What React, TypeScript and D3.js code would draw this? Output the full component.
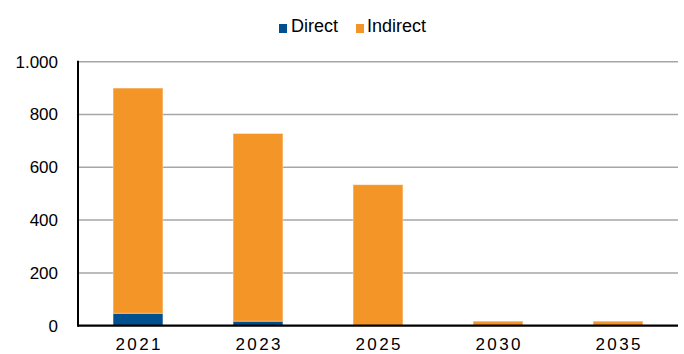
import React from "react";
import * as d3 from "d3";

const categories = ["2021", "2023", "2025", "2030", "2035"];
const directValues = [47, 17, 0, 0, 0];
const indirectValues = [853, 711, 534, 17, 17];
const yTicks = [0, 200, 400, 600, 800, 1000];
const seriesNames = ["Direct", "Indirect"];
const seriesColors = ["#00508F", "#F39627"];

const W = 684;
const H = 354;
const left = 78;
const right = 678;
const top = 61.7;
const bottom = 325.7;

export default function App() {
  const x = d3.scaleBand<string>().domain(categories).range([left, right]).paddingInner(0.585).paddingOuter(0.2925);
  const y = d3.scaleLinear().domain([0, 1000]).range([bottom, top]);
  const fmt = (v: number) => (v >= 1000 ? d3.format(",")(v).replace(/,/g, ".") : String(v));
  const stacked = d3.stack<number>().keys(["0", "1"]).value((i, k) => (k === "0" ? directValues[i] : indirectValues[i]))(
    categories.map((_, i) => i)
  );
  const font = "'Liberation Sans', Arial, sans-serif";
  return (
    <svg width={W} height={H} style={{ position: "absolute", left: 0, top: 0 }} fontFamily={font}>
      <rect width={W} height={H} fill="#fff" />
      {yTicks.filter((t) => t > 0).map((t) => (
        <line key={t} x1={left} x2={right} y1={y(t)} y2={y(t)} stroke="#A6A6A6" strokeWidth={1.5} />
      ))}
      {stacked.map((s, si) =>
        s.map((d, i) =>
          d[1] - d[0] > 0 ? (
            <rect
              key={si + "-" + i}
              x={x(categories[i])!}
              width={x.bandwidth()}
              y={y(d[1])}
              height={y(d[0]) - y(d[1])}
              fill={seriesColors[si]}
              stroke="#fff"
              strokeOpacity={0.35}
              strokeWidth={1}
            />
          ) : null
        )
      )}
      <line x1={left} x2={left} y1={top - 1} y2={bottom + 1} stroke="#000" strokeWidth={2} />
      <line x1={left} x2={right} y1={bottom} y2={bottom} stroke="#000" strokeWidth={2.2} />
      {yTicks.map((t) => (
        <text key={t} x={58} y={y(t)} dy="0.35em" textAnchor="end" fontSize={17} fill="#000">
          {fmt(t)}
        </text>
      ))}
      {categories.map((c) => (
        <text
          key={c}
          x={x(c)! + x.bandwidth() / 2 + 1.2}
          y={349.5}
          textAnchor="middle"
          fontSize={17}
          letterSpacing={2.4}
          fill="#000"
        >
          {c}
        </text>
      ))}
      <g>
        <rect x={279} y={24} width={8} height={9} fill={seriesColors[0]} />
        <text x={291} y={31.7} fontSize={18} fill="#000">{seriesNames[0]}</text>
        <rect x={356} y={24} width={8} height={9} fill={seriesColors[1]} />
        <text x={367} y={31.7} fontSize={18} fill="#000">{seriesNames[1]}</text>
      </g>
    </svg>
  );
}
